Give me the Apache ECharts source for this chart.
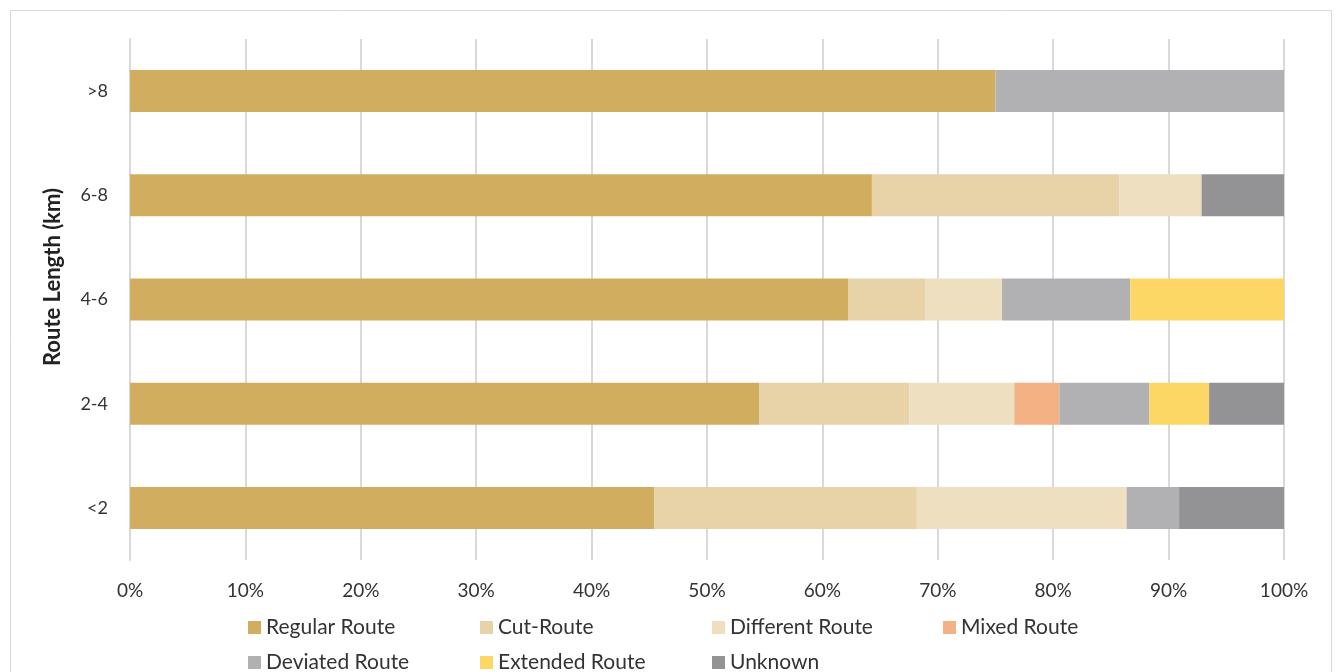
<!DOCTYPE html>
<html><head><meta charset="utf-8">
<script src="https://cdn.jsdelivr.net/npm/echarts@6/dist/echarts.min.js"></script>
<style>html,body{margin:0;padding:0;background:#fff}#c{width:1342px;height:672px}</style>
</head><body><div id="c"></div>
<script>
const categories = ['<2', '2-4', '4-6', '6-8', '>8'];
const seriesNames = ['Regular Route', 'Cut-Route', 'Different Route', 'Mixed Route', 'Deviated Route', 'Extended Route', 'Unknown'];
const regularRoute   = [45.45, 54.55, 62.22, 64.29, 75.0];
const cutRoute       = [22.73, 12.99, 6.67, 21.43, 0];
const differentRoute = [18.18, 9.09, 6.67, 7.14, 0];
const mixedRoute     = [0, 3.90, 0, 0, 0];
const deviatedRoute  = [4.55, 7.79, 11.11, 0, 25.0];
const extendedRoute  = [0, 5.19, 13.33, 0, 0];
const unknown        = [9.09, 6.49, 0, 7.14, 0];
const xTicks = [0, 10, 20, 30, 40, 50, 60, 70, 80, 90, 100];
const axisTitle = 'Route Length (km)';

const values = [regularRoute, cutRoute, differentRoute, mixedRoute, deviatedRoute, extendedRoute, unknown];
const colors = ['#D1AD60', '#E8D3A8', '#EDDFC0', '#F4B183', '#B1B1B4', '#FDD766', '#939396'];
const legendPos = [[248, 617], [480, 617], [712, 617], [943, 617], [248, 652], [480, 652], [712, 652]];
const font = 'Lato, "Open Sans", sans-serif';

const chart = echarts.init(document.getElementById('c'), null, {renderer: 'canvas'});
chart.setOption({
  animation: false,
  graphic: [
    {type: 'rect', shape: {x: 10.5, y: 10.5, width: 1321, height: 700}, style: {fill: 'none', stroke: '#d9d9d9', lineWidth: 1}, silent: true},
    {type: 'text', x: 53, y: 277, rotation: Math.PI / 2,
     style: {text: axisTitle, fontSize: 22, fontWeight: 'bold', fontFamily: font, fill: '#222', align: 'center', verticalAlign: 'middle'}}
  ],
  grid: {left: 130, right: 58, top: 39, bottom: 112, containLabel: false},
  xAxis: {
    type: 'value', min: xTicks[0], max: xTicks[xTicks.length - 1], interval: 10,
    axisLabel: {formatter: v => v + '%', color: '#333', fontSize: 19, fontFamily: font, margin: 21},
    axisLine: {show: false}, axisTick: {show: false},
    splitLine: {show: true, lineStyle: {color: '#d9d9d9', width: 2}}
  },
  yAxis: {
    type: 'category', data: categories,
    axisLabel: {color: '#333', fontSize: 18, fontFamily: font, margin: 22},
    axisLine: {show: true, lineStyle: {color: '#d9d9d9', width: 2}},
    axisTick: {show: false}
  },
  legend: seriesNames.map((n, i) => ({
    data: [n], left: legendPos[i][0], top: legendPos[i][1],
    itemWidth: 13, itemHeight: 13, icon: 'rect', padding: 0,
    textStyle: {fontSize: 21, fontFamily: font, color: '#333'}
  })),
  series: seriesNames.map((n, i) => ({
    name: n, type: 'bar', stack: 'total', data: values[i], barWidth: 42,
    itemStyle: {color: colors[i]}
  }))
});
</script></body></html>
